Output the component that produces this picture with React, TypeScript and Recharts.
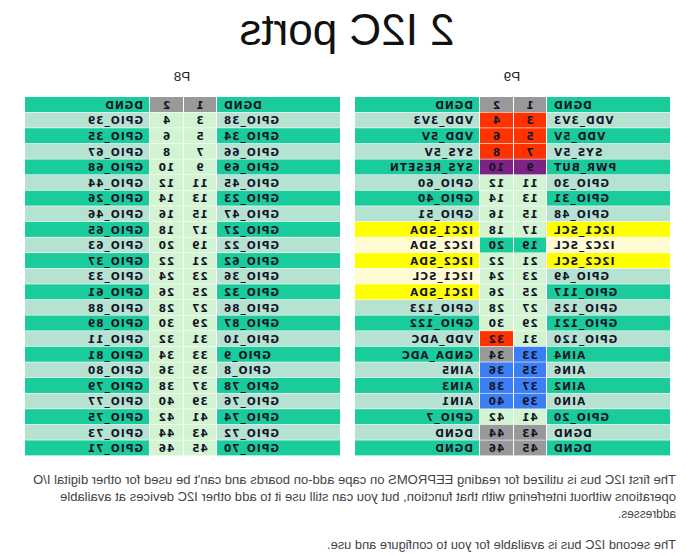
import React from 'react'
import { BarChart, Bar, XAxis, YAxis, LabelList, Cell } from 'recharts'

// header connector P9
const p9OddNames = ['DGND', 'VDD_3V3', 'VDD_5V', 'SYS_5V', 'PWR_BUT', 'GPIO_30', 'GPIO_31', 'GPIO_48', 'I2C1_SCL', 'I2C2_SCL', 'I2C2_SCL', 'GPIO_49', 'GPIO_117', 'GPIO_125', 'GPIO_121', 'GPIO_120', 'AIN4', 'AIN6', 'AIN2', 'AIN0', 'GPIO_20', 'DGND', 'DGND']
const p9EvenNames = ['DGND', 'VDD_3V3', 'VDD_5V', 'SYS_5V', 'SYS_RESETN', 'GPIO_60', 'GPIO_40', 'GPIO_51', 'I2C1_SDA', 'I2C2_SDA', 'I2C2_SDA', 'I2C1_SCL', 'I2C1_SDA', 'GPIO_123', 'GPIO_122', 'VDD_ADC', 'GNDA_ADC', 'AIN5', 'AIN3', 'AIN1', 'GPIO_7', 'DGND', 'DGND']
const p9OddKinds = ['gnd', 'pwr', 'pwr', 'pwr', 'reset', 'io', 'io', 'io', 'io', 'bus', 'io', 'io', 'io', 'io', 'io', 'io', 'ain', 'ain', 'ain', 'ain', 'io', 'gnd', 'gnd']
const p9EvenKinds = ['gnd', 'pwr', 'pwr', 'pwr', 'reset', 'io', 'io', 'io', 'io', 'bus', 'io', 'io', 'io', 'io', 'io', 'pwr', 'gnd', 'ain', 'ain', 'ain', 'io', 'gnd', 'gnd']
const p9OddTags = ['', '', '', '', '', '', '', '', 'i2c', 'i2c2', 'i2c', '', '', '', '', '', '', '', '', '', '', '', '']
const p9EvenTags = ['', '', '', '', '', '', '', '', 'i2c', 'i2c2', 'i2c', 'i2c2', 'i2c', '', '', '', '', '', '', '', '', '', '']

// header connector P8
const p8OddNames = ['DGND', 'GPIO_38', 'GPIO_34', 'GPIO_66', 'GPIO_69', 'GPIO_45', 'GPIO_23', 'GPIO_47', 'GPIO_27', 'GPIO_22', 'GPIO_62', 'GPIO_36', 'GPIO_32', 'GPIO_86', 'GPIO_87', 'GPIO_10', 'GPIO_9', 'GPIO_8', 'GPIO_78', 'GPIO_76', 'GPIO_74', 'GPIO_72', 'GPIO_70']
const p8EvenNames = ['DGND', 'GPIO_39', 'GPIO_35', 'GPIO_67', 'GPIO_68', 'GPIO_44', 'GPIO_26', 'GPIO_46', 'GPIO_65', 'GPIO_63', 'GPIO_37', 'GPIO_33', 'GPIO_61', 'GPIO_88', 'GPIO_89', 'GPIO_11', 'GPIO_81', 'GPIO_80', 'GPIO_79', 'GPIO_77', 'GPIO_75', 'GPIO_73', 'GPIO_71']
const p8OddKinds = ['gnd', 'io', 'io', 'io', 'io', 'io', 'io', 'io', 'io', 'io', 'io', 'io', 'io', 'io', 'io', 'io', 'io', 'io', 'io', 'io', 'io', 'io', 'io']
const p8EvenKinds = ['gnd', 'io', 'io', 'io', 'io', 'io', 'io', 'io', 'io', 'io', 'io', 'io', 'io', 'io', 'io', 'io', 'io', 'io', 'io', 'io', 'io', 'io', 'io']

const oddPins = [1, 3, 5, 7, 9, 11, 13, 15, 17, 19, 21, 23, 25, 27, 29, 31, 33, 35, 37, 39, 41, 43, 45]
const evenPins = [2, 4, 6, 8, 10, 12, 14, 16, 18, 20, 22, 24, 26, 28, 30, 32, 34, 36, 38, 40, 42, 44, 46]

const noteLines = [
  "The first I2C bus is utilized for reading EEPROMS on cape add-on boards and can't be used for other digital I/O",
  'operations without interfering with that function, but you can still use it to add other I2C devices at available',
  'addresses.',
  'The second I2C bus is available for you to configure and use.',
]

const TEAL = '#1acb9c'
const LIGHT = '#b6e2d1'
const kindColor: Record<string, string> = {
  gnd: '#999999',
  pwr: '#ff3300',
  reset: '#7d2386',
  io: '#d2f4d2',
  bus: TEAL,
  ain: '#3c7ff4',
}
const tagColor: Record<string, string> = { i2c: '#ffff00', i2c2: '#fffbd3' }

const COL_W = [124, 33, 34, 125]
const TABLE_W = COL_W[0] + COL_W[1] + COL_W[2] + COL_W[3]
const TABLE_H = 359
const FONT = '"DejaVu Sans", sans-serif'

// measured line lengths / baselines of the note text
const NOTE_LEN = [643, 616, 58, 349]
const NOTE_Y = [24, 41, 58, 89]

function nameFill(tag: string, i: number) {
  if (tag) return tagColor[tag]
  return i % 2 === 0 ? TEAL : LIGHT
}

const CellShape = (p: any) => (
  <rect x={p.x} y={p.y} width={Math.max(0, p.width - 1)} height={Math.max(0, p.height - 1)} fill={p.fill} />
)

const makeLabel = (align: 'start' | 'middle' | 'end') => (p: any) => {
  const { x, y, width, height, value } = p
  const tx = align === 'start' ? x + 6 : align === 'end' ? x + width - 7 : x + width / 2
  return (
    <text x={tx} y={y + height / 2} dy="0.36em" textAnchor={align} fontFamily={FONT} fontSize={10.5} fontWeight="bold" letterSpacing={1} fill="#141428">
      {value}
    </text>
  )
}

function PinTable(props: {
  oddNames: string[]
  evenNames: string[]
  oddKinds: string[]
  evenKinds: string[]
  oddTags?: string[]
  evenTags?: string[]
}) {
  const { oddNames, evenNames, oddKinds, evenKinds } = props
  const oddTags = props.oddTags || oddNames.map(() => '')
  const evenTags = props.evenTags || evenNames.map(() => '')
  const rows = oddNames.map((n, i) => ({
    row: i,
    n1: n,
    p1: oddPins[i],
    p2: evenPins[i],
    n2: evenNames[i],
    w1: COL_W[0],
    w2: COL_W[1],
    w3: COL_W[2],
    w4: COL_W[3],
  }))
  return (
    <BarChart width={TABLE_W} height={TABLE_H} data={rows} layout="vertical" margin={{ top: 0, right: 0, bottom: 0, left: 0 }} barCategoryGap={0}>
      <XAxis type="number" hide domain={[0, TABLE_W]} />
      <YAxis type="category" dataKey="row" hide />
      <Bar dataKey="w1" stackId="t" shape={CellShape} isAnimationActive={false}>
        {rows.map((r, i) => <Cell key={i} fill={nameFill(oddTags[i], i)} />)}
        <LabelList dataKey="n1" content={makeLabel('end')} />
      </Bar>
      <Bar dataKey="w2" stackId="t" shape={CellShape} isAnimationActive={false}>
        {rows.map((r, i) => <Cell key={i} fill={kindColor[oddKinds[i]]} />)}
        <LabelList dataKey="p1" content={makeLabel('middle')} />
      </Bar>
      <Bar dataKey="w3" stackId="t" shape={CellShape} isAnimationActive={false}>
        {rows.map((r, i) => <Cell key={i} fill={kindColor[evenKinds[i]]} />)}
        <LabelList dataKey="p2" content={makeLabel('middle')} />
      </Bar>
      <Bar dataKey="w4" stackId="t" shape={CellShape} isAnimationActive={false}>
        {rows.map((r, i) => <Cell key={i} fill={nameFill(evenTags[i], i)} />)}
        <LabelList dataKey="n2" content={makeLabel('start')} />
      </Bar>
    </BarChart>
  )
}

const label: React.CSSProperties = {
  position: 'absolute',
  top: 69,
  width: TABLE_W,
  textAlign: 'center',
  fontFamily: '"Liberation Sans", Arial, sans-serif',
  fontSize: 13.5,
  color: '#222',
}

export default function App() {
  return (
    <div style={{ position: 'absolute', left: 0, top: 0, width: 686, height: 555, background: '#fff', transform: 'scaleX(-1)', overflow: 'hidden' }}>
      <div style={{ position: 'absolute', top: 5, left: 0, width: 678, textAlign: 'center', fontFamily: '"Liberation Sans", Arial, sans-serif', fontSize: 44, lineHeight: '50px', color: '#111' }}>
        2 I2C ports
      </div>
      <div style={{ ...label, left: 16 }}>P9</div>
      <div style={{ ...label, left: 346 }}>P8</div>
      <div style={{ position: 'absolute', left: 16, top: 97 }}>
        <PinTable oddNames={p9OddNames} evenNames={p9EvenNames} oddKinds={p9OddKinds} evenKinds={p9EvenKinds} oddTags={p9OddTags} evenTags={p9EvenTags} />
      </div>
      <div style={{ position: 'absolute', left: 346, top: 97 }}>
        <PinTable oddNames={p8OddNames} evenNames={p8EvenNames} oddKinds={p8OddKinds} evenKinds={p8EvenKinds} />
      </div>
      <svg style={{ position: 'absolute', left: 0, top: 460 }} width={686} height={95}>
        {noteLines.map((t, i) => (
          <text key={i} x={10} y={NOTE_Y[i]} textLength={NOTE_LEN[i]} lengthAdjust="spacingAndGlyphs" fontFamily='"Liberation Sans", Arial, sans-serif' fontSize={13.5} fill="#444">
            {t}
          </text>
        ))}
      </svg>
    </div>
  )
}
